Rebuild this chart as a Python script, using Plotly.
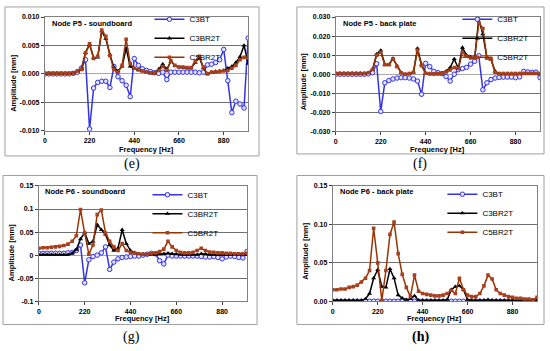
import plotly.graph_objects as go

# ---------------- data ----------------
freq = [0, 20, 40, 60, 80, 100, 120, 140, 160, 180,
        200, 220, 240, 260, 280, 300, 320, 340, 360, 380,
        400, 420, 440, 460, 480, 500, 520, 540, 560, 580,
        600, 620, 640, 660, 680, 700, 720, 740, 760, 780,
        800, 820, 840, 860, 880, 900, 920, 940, 960, 980, 1000]

x_tick_vals = [0, 220, 440, 660, 880]
x_tick_text = ["0", "220", "440", "660", "880"]

series_names = ["C3BT", "C3BR2T", "C5BR2T"]

# (e) Node P5 - soundboard
e_c3bt = [0.0000, 0.0000, 0.0000, 0.0000, 0.0000, 0.0000, 0.0000, 0.0001, 0.0003, 0.0010,
          0.0025, -0.0097, -0.0025, -0.0015, -0.0013, -0.0013, -0.0024, 0.0013, -0.0005, -0.0012,
          -0.0020, -0.0040, 0.0027, 0.0015, 0.0009, 0.0006, 0.0004, 0.0002, 0.0001, 0.0003,
          -0.0010, 0.0003, 0.0003, 0.0003, 0.0003, 0.0003, 0.0003, 0.0003, 0.0002, 0.0003,
          0.0016, 0.0017, 0.0020, 0.0025, 0.0043, -0.0012, -0.0068, -0.0048, -0.0053, -0.0060, 0.0063]
e_c3br2t = [0.0000, 0.0000, 0.0000, 0.0000, 0.0000, 0.0000, 0.0000, 0.0001, 0.0005, 0.0008,
            0.0037, 0.0052, 0.0028, 0.0029, 0.0075, 0.0062, 0.0034, 0.0011, 0.0005, 0.0013,
            0.0045, 0.0013, 0.0009, 0.0007, 0.0005, 0.0003, 0.0001, 0.0001, 0.0008, 0.0017,
            0.0008, 0.0022, 0.0014, 0.0012, 0.0011, 0.0010, 0.0010, 0.0020, 0.0029, 0.0010,
            0.0000, 0.0002, 0.0004, 0.0005, 0.0006, 0.0010, 0.0013, 0.0020, 0.0030, 0.0050, 0.0018]
e_c5br2t = [0.0001, 0.0001, 0.0001, 0.0001, 0.0001, 0.0001, 0.0001, 0.0002, 0.0005, 0.0008,
            0.0037, 0.0053, 0.0027, 0.0031, 0.0077, 0.0066, 0.0032, 0.0008, 0.0003, 0.0015,
            0.0061, 0.0018, 0.0010, 0.0007, 0.0005, 0.0003, 0.0002, 0.0001, 0.0006, 0.0013,
            0.0006, 0.0023, 0.0015, 0.0012, 0.0012, 0.0011, 0.0011, 0.0022, 0.0031, 0.0012,
            0.0000, 0.0003, 0.0003, 0.0004, 0.0005, 0.0006, 0.0010, 0.0015, 0.0025, 0.0029, 0.0028]

# (f) Node P5 - back plate
f_c3bt = [0.0000, 0.0000, 0.0000, 0.0000, 0.0000, 0.0000, 0.0000, 0.0000, 0.0002, 0.0008,
          0.0055, -0.0195, -0.0045, -0.0033, -0.0025, -0.0020, -0.0018, -0.0018, -0.0020, -0.0025,
          -0.0036, -0.0105, 0.0057, 0.0040, 0.0015, 0.0008, 0.0003, -0.0012, -0.0036, 0.0000,
          0.0024, 0.0030, 0.0036, 0.0053, 0.0068, 0.0097, -0.0082, -0.0045, -0.0028, -0.0020,
          -0.0017, -0.0015, -0.0015, -0.0015, -0.0018, -0.0014, 0.0015, 0.0012, 0.0010, 0.0011, -0.0018]
f_c3br2t = [0.0004, 0.0004, 0.0004, 0.0004, 0.0004, 0.0004, 0.0004, 0.0004, 0.0008, 0.0025,
            0.0105, 0.0125, 0.0052, 0.0050, 0.0083, 0.0042, 0.0008, 0.0000, 0.0003, 0.0010,
            0.0135, 0.0050, 0.0005, 0.0002, 0.0001, 0.0002, 0.0005, 0.0015, 0.0035, 0.0080,
            0.0030, 0.0140, 0.0100, 0.0090, 0.0085, 0.0290, 0.0210, 0.0085, 0.0078, 0.0015,
            0.0003, 0.0003, 0.0003, 0.0003, 0.0003, 0.0003, 0.0003, 0.0003, 0.0003, 0.0003, 0.0003]
f_c5br2t = [0.0004, 0.0004, 0.0004, 0.0004, 0.0004, 0.0004, 0.0004, 0.0004, 0.0008, 0.0025,
            0.0100, 0.0115, 0.0050, 0.0050, 0.0080, 0.0040, 0.0008, 0.0000, 0.0003, 0.0010,
            0.0125, 0.0045, 0.0005, 0.0002, 0.0001, 0.0002, 0.0005, 0.0012, 0.0022, 0.0035,
            0.0030, 0.0115, 0.0095, 0.0085, 0.0085, 0.0270, 0.0240, 0.0085, 0.0080, 0.0010,
            0.0004, 0.0004, 0.0004, 0.0004, 0.0004, 0.0004, 0.0004, 0.0004, 0.0004, 0.0004, 0.0004]

# (g) Node P6 - soundboard
g_c3bt = [0.004, 0.004, 0.004, 0.004, 0.004, 0.004, 0.004, 0.005, 0.006, 0.010,
          0.022, -0.060, -0.010, -0.003, 0.000, 0.005, 0.018, -0.031, -0.015, -0.008,
          -0.005, -0.004, -0.003, -0.002, -0.002, 0.000, 0.002, 0.004, 0.003, -0.012,
          -0.019, 0.000, -0.002, -0.002, -0.002, -0.002, -0.002, -0.002, -0.002, -0.003,
          -0.004, -0.004, -0.003, -0.005, -0.008, -0.004, -0.002, -0.003, -0.005, -0.006, 0.008]
g_c3br2t = [0.001, 0.001, 0.001, 0.001, 0.001, 0.001, 0.001, 0.001, 0.004, 0.012,
            0.035, 0.049, 0.025, 0.030, 0.066, 0.055, 0.045, 0.022, 0.010, 0.015,
            0.055, 0.025, 0.010, 0.005, 0.003, 0.002, 0.001, 0.001, 0.001, 0.002,
            0.003, 0.004, 0.003, 0.002, 0.001, 0.001, 0.001, 0.001, 0.001, 0.003,
            0.002, 0.001, 0.001, 0.001, 0.001, 0.001, 0.001, 0.001, 0.001, 0.001, 0.001]
g_c5br2t = [0.015, 0.016, 0.016, 0.017, 0.018, 0.019, 0.021, 0.024, 0.030, 0.042,
            0.099, 0.048, 0.002, 0.022, 0.088, 0.098, 0.048, 0.030, 0.018, 0.010,
            0.025, 0.010, 0.006, 0.004, 0.003, 0.002, 0.002, 0.003, 0.005, 0.008,
            0.013, 0.030, 0.018, 0.010, 0.006, 0.005, 0.005, 0.006, 0.010, 0.015,
            0.010, 0.007, 0.006, 0.005, 0.005, 0.004, 0.004, 0.003, 0.003, 0.003, 0.004]

# (h) Node P6 - back plate
h_c3bt = [0.0, 0.0, 0.0, 0.0, 0.0, 0.0, 0.0, 0.0, 0.0, 0.0,
          0.0, 0.0, 0.0, 0.0, 0.0, 0.0, 0.0, 0.0, 0.0, 0.0,
          0.0, 0.0, 0.0, 0.0, 0.0, 0.0, 0.0, 0.0, 0.0, 0.0,
          0.0, 0.0, 0.0, 0.0, 0.0, 0.0, 0.0, 0.0, 0.0, 0.0,
          0.0, 0.0, 0.0, 0.0, 0.0, 0.0, 0.0, 0.0, 0.0, 0.0, 0.0]
h_c3br2t = [0.001, 0.001, 0.001, 0.001, 0.001, 0.001, 0.001, 0.001, 0.003, 0.010,
            0.030, 0.041, 0.019, 0.018, 0.042, 0.030, 0.008, 0.004, 0.002, 0.003,
            0.007, 0.001, 0.001, 0.001, 0.001, 0.001, 0.001, 0.001, 0.002, 0.015,
            0.019, 0.020, 0.015, 0.002, 0.001, 0.001, 0.001, 0.001, 0.002, 0.001,
            0.001, 0.001, 0.001, 0.001, 0.001, 0.001, 0.001, 0.001, 0.001, 0.001, 0.001]
h_c5br2t = [0.015, 0.015, 0.016, 0.016, 0.018, 0.019, 0.021, 0.025, 0.030, 0.040,
            0.095, 0.050, 0.001, 0.040, 0.087, 0.103, 0.062, 0.035, 0.018, 0.006,
            0.034, 0.013, 0.010, 0.009, 0.008, 0.007, 0.007, 0.008, 0.010, 0.014,
            0.010, 0.030, 0.015, 0.008, 0.006, 0.006, 0.010, 0.020, 0.034, 0.029,
            0.015, 0.010, 0.008, 0.006, 0.005, 0.004, 0.004, 0.003, 0.003, 0.002, 0.005]

# y tick labels per panel
e_ytick_vals = [-0.010, -0.005, 0.0, 0.005, 0.010]
e_ytick_text = ["-0.010", "-0.005", "0.000", "0.005", "0.010"]
f_ytick_vals = [-0.030, -0.020, -0.010, 0.0, 0.010, 0.020, 0.030]
f_ytick_text = ["-0.030", "-0.020", "-0.010", "0.000", "0.010", "0.020", "0.030"]
g_ytick_vals = [-0.1, -0.05, 0.0, 0.05, 0.1, 0.15]
g_ytick_text = ["-0.1", "-0.05", "0", "0.05", "0.1", "0.15"]
h_ytick_vals = [0.0, 0.05, 0.10, 0.15]
h_ytick_text = ["0.00", "0.05", "0.10", "0.15"]

panel_titles = ["Node P5 - soundboard", "Node P5 - back plate",
                "Node P6 - soundboard", "Node P6 - back plate"]
panel_letters = ["(e)", "(f)", "(g)", "(h)"]
x_title = "Frequency [Hz]"
y_title = "Amplitude [mm]"

# ---------------- layout helpers ----------------
W, H = 550, 351
FONT = "Liberation Sans, Arial, Helvetica, sans-serif"
SERIF = "Liberation Serif, Times New Roman, serif"


def fx(px):
    return px / W


def fy(py):
    return 1 - py / H


# leg = (legend left px, centre of middle legend item px)
panels = [
    dict(data=(e_c3bt, e_c3br2t, e_c5br2t), xd=(43, 247), yd=(13.3, 129.3),
         yr=(-0.010, 0.010), ytv=e_ytick_vals, ytt=e_ytick_text,
         title_xy=(48, 20), leg=(148, 35), ytitle_xy=(11.5, 80), xtitle_y=148,
         letter_xy=(130, 163), box=(3, 3, 258, 155), zero=True, bold_letter=False),
    dict(data=(f_c3bt, f_c3br2t, f_c5br2t), xd=(335, 540), yd=(13.3, 130),
         yr=(-0.030, 0.030), ytv=f_ytick_vals, ytt=f_ytick_text,
         title_xy=(340, 20), leg=(457, 35), ytitle_xy=(303, 79), xtitle_y=148,
         letter_xy=(420, 163), box=(296, 3, 544, 153), zero=True, bold_letter=False),
    dict(data=(g_c3bt, g_c3br2t, g_c5br2t), xd=(37, 246), yd=(185.7, 303.3),
         yr=(-0.1, 0.15), ytv=g_ytick_vals, ytt=g_ytick_text,
         title_xy=(41, 191.7), leg=(146, 214), ytitle_xy=(9.5, 253), xtitle_y=321,
         letter_xy=(130, 340), box=(1, 175, 256, 327), zero=True, bold_letter=False),
    dict(data=(h_c3bt, h_c3br2t, h_c5br2t), xd=(332, 537), yd=(185.7, 303.3),
         yr=(0.0, 0.15), ytv=h_ytick_vals, ytt=h_ytick_text,
         title_xy=(337, 191.7), leg=(442, 213.5), ytitle_xy=(305, 252), xtitle_y=320.5,
         letter_xy=(420, 340), box=(296, 175, 544, 327), zero=False, bold_letter=True),
]

styles = [
    dict(line=dict(color="#3333E6", width=1.5),
         marker=dict(symbol="circle", size=4.5, color="#E4E4FF",
                     line=dict(color="#3333E6", width=1))),
    dict(line=dict(color="#000000", width=1.5),
         marker=dict(symbol="triangle-up", size=4.5, color="#000000",
                     line=dict(width=0))),
    dict(line=dict(color="#993300", width=1.5),
         marker=dict(symbol="square", size=3.6, color="#A8401E",
                     line=dict(width=0))),
]

fig = go.Figure()
layout = dict(
    width=W, height=H,
    margin=dict(l=0, r=0, t=0, b=0),
    paper_bgcolor="white", plot_bgcolor="white",
    showlegend=True,
    annotations=[], shapes=[],
)

for i, p in enumerate(panels):
    n = "" if i == 0 else str(i + 1)
    xa, ya = "x" + n, "y" + n
    lg = "legend" + n

    for name, vals, st in zip(series_names, p["data"], styles):
        fig.add_trace(go.Scatter(
            x=freq, y=vals, name=name, mode="lines+markers",
            line=st["line"], marker=st["marker"],
            xaxis=xa, yaxis=ya, legend=lg, cliponaxis=True,
        ))

    layout["xaxis" + n] = dict(
        domain=[fx(p["xd"][0]), fx(p["xd"][1])], anchor=ya,
        range=[0, 1000], tickmode="array", tickvals=x_tick_vals, ticktext=x_tick_text,
        showgrid=False, zeroline=False,
        showline=True, mirror=True, linecolor="#808080", linewidth=1,
        ticks="outside", ticklen=3, tickcolor="#404040",
        tickfont=dict(family=FONT, size=7, color="#000", weight="bold"),
    )
    layout["yaxis" + n] = dict(
        domain=[fy(p["yd"][1]), fy(p["yd"][0])], anchor=xa,
        range=list(p["yr"]), tickmode="array", tickvals=p["ytv"], ticktext=p["ytt"],
        showgrid=True, gridcolor="#707070", gridwidth=1,
        zeroline=p["zero"], zerolinecolor="#A8A8A8", zerolinewidth=1,
        showline=True, mirror=True, linecolor="#808080", linewidth=1,
        ticks="outside", ticklen=3, tickcolor="#404040",
        tickfont=dict(family=FONT, size=7, color="#000", weight="bold"),
    )
    layout[lg] = dict(
        x=fx(p["leg"][0]), y=fy(p["leg"][1]), xanchor="left", yanchor="middle",
        xref="paper", yref="paper",
        bgcolor="rgba(0,0,0,0)", borderwidth=0,
        font=dict(family=FONT, size=8, color="#000"),
        itemwidth=30, tracegroupgap=0,
    )

    # panel title inside plot
    layout["annotations"].append(dict(
        text=panel_titles[i], x=fx(p["title_xy"][0]), y=fy(p["title_xy"][1]),
        xref="paper", yref="paper", xanchor="left", yanchor="middle", showarrow=False,
        font=dict(family=FONT, size=7.5, color="#000", weight="bold"),
    ))
    # axis titles
    layout["annotations"].append(dict(
        text=y_title, x=fx(p["ytitle_xy"][0]), y=fy(p["ytitle_xy"][1]),
        xref="paper", yref="paper", xanchor="center", yanchor="middle",
        textangle=-90, showarrow=False,
        font=dict(family=FONT, size=7.5, color="#000", weight="bold"),
    ))
    layout["annotations"].append(dict(
        text=x_title, x=(fx(p["xd"][0]) + fx(p["xd"][1])) / 2, y=fy(p["xtitle_y"]),
        xref="paper", yref="paper", xanchor="center", yanchor="middle", showarrow=False,
        font=dict(family=FONT, size=7.5, color="#000", weight="bold"),
    ))
    # sub-figure letter
    layout["annotations"].append(dict(
        text=panel_letters[i], x=fx(p["letter_xy"][0]), y=fy(p["letter_xy"][1]),
        xref="paper", yref="paper", xanchor="center", yanchor="middle", showarrow=False,
        font=dict(family=SERIF, size=14, color="#000",
                  weight="bold" if p["bold_letter"] else "normal"),
    ))
    # chart-area frame
    b = p["box"]
    layout["shapes"].append(dict(
        type="rect", xref="paper", yref="paper",
        x0=fx(b[0]), x1=fx(b[2]), y0=fy(b[3]), y1=fy(b[1]),
        line=dict(color="#A0A0A0", width=1), fillcolor="rgba(0,0,0,0)", layer="below",
    ))

fig.update_layout(**layout)
fig.write_html(
    "out.html",
    config={"displayModeBar": False},
    post_script="document.body.style.margin='0';document.body.style.overflow='hidden';",
)
